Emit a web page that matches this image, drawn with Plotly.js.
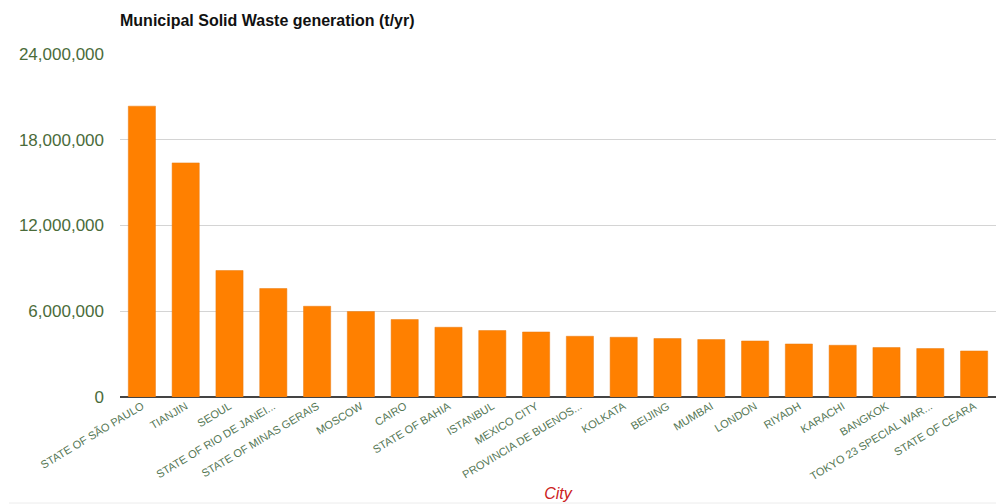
<!DOCTYPE html>
<html>
<head>
<meta charset="utf-8">
<script src="https://cdn.plot.ly/plotly-3.0.1.min.js"></script>
<style>
html,body{margin:0;padding:0;background:#fff;}
#chart{width:996px;height:504px;}
</style>
</head>
<body>
<div id="chart"></div>
<script>
const cities = [
  "STATE OF SÃO PAULO", "TIANJIN", "SEOUL", "STATE OF RIO DE JANEI...",
  "STATE OF MINAS GERAIS", "MOSCOW", "CAIRO", "STATE OF BAHIA",
  "ISTANBUL", "MEXICO CITY", "PROVINCIA DE BUENOS...", "KOLKATA",
  "BEIJING", "MUMBAI", "LONDON", "RIYADH", "KARACHI", "BANGKOK",
  "TOKYO 23 SPECIAL WAR...", "STATE OF CEARA"
];
const wasteTonsPerYear = [
  20350000, 16380000, 8850000, 7590000, 6350000, 5980000, 5420000, 4880000,
  4650000, 4550000, 4250000, 4180000, 4090000, 4020000, 3920000, 3710000,
  3620000, 3460000, 3390000, 3220000
];
const yTicks = [0, 6000000, 12000000, 18000000, 24000000];

const trace = {
  type: "bar",
  x: cities,
  y: wasteTonsPerYear,
  marker: { color: "#ff8000", line: { color: "#e87a10", width: 0.5 } },
  hoverinfo: "x+y"
};

const layout = {
  width: 996,
  height: 504,
  margin: { l: 120, r: 0, t: 54, b: 107 },
  paper_bgcolor: "#ffffff",
  plot_bgcolor: "#ffffff",
  showlegend: false,
  bargap: 0.38,
  font: { family: "Arial, 'Liberation Sans', sans-serif" },
  title: {
    text: "<b>Municipal Solid Waste generation (t/yr)</b>",
    font: { size: 16, color: "#111111" },
    xref: "container", x: 120 / 996, xanchor: "left",
    yref: "container", y: 1 - 20 / 504, yanchor: "middle"
  },
  xaxis: {
    type: "category",
    tickangle: -31,
    tickfont: { size: 11, color: "#557755" },
    ticks: "",
    showgrid: false,
    showline: false,
    automargin: false,
    title: {
      text: "<i>City</i>",
      font: { size: 16, color: "#cc2222" },
      standoff: 6
    }
  },
  yaxis: {
    range: [0, 24000000],
    tickvals: yTicks,
    tickformat: ",d",
    tickfont: { size: 17, color: "#4a6b3a" },
    gridcolor: "#d4d4d4",
    gridwidth: 1,
    zeroline: true,
    zerolinecolor: "#444444",
    zerolinewidth: 1.5,
    showline: false,
    ticks: "",
    ticklabelstandoff: 15,
    automargin: false,
    fixedrange: true
  },
  shapes: [{
    type: "line", xref: "paper", yref: "paper",
    x0: (9 - 120) / 876, x1: 1, y0: (397 - 503) / 343, y1: (397 - 503) / 343,
    line: { color: "#ececec", width: 1 }
  }]
};

Plotly.newPlot("chart", [trace], layout, { displayModeBar: false, staticPlot: true });
</script>
</body>
</html>
